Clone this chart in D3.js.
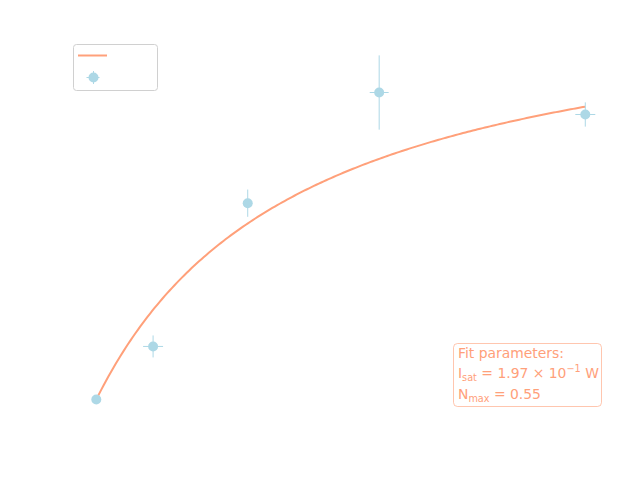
<!DOCTYPE html>
<html><head><meta charset="utf-8">
<script src="https://cdn.jsdelivr.net/npm/d3@7"></script>
<style>body{margin:0;background:#fff}svg{display:block}</style>
</head><body>
<svg id="c" width="640" height="480"></svg>
<script>
// Data (intensity in W, normalized count)
const intensity = [0.0, 0.054, 0.144, 0.269, 0.465];
const counts    = [0.0, 0.070, 0.259, 0.405, 0.376];
const xErr      = [0.0, 0.0095, 0.003, 0.009, 0.0095];
const yErr      = [0.0, 0.0145, 0.018, 0.049, 0.016];
const Isat = 0.197, Nmax = 0.55;
const fitLabels = ["Fit parameters:"];

const svg = d3.select("#c");
const x = d3.scaleLinear().domain([0, 0.5]).range([96.3, 96.3 + 0.5 * 1051.6]);
const y = d3.scaleLinear().domain([0, 0.5]).range([399.5, 399.5 - 0.5 * 758]);
const salmon = "#ffa07a", blue = "#add8e6";

// fit curve
const model = I => Nmax * I / (I + Isat);
const xs = d3.range(0, 201).map(i => intensity[0] + (d3.max(intensity) - intensity[0]) * i / 200);
svg.append("path")
  .datum(xs)
  .attr("fill", "none").attr("stroke", salmon).attr("stroke-width", 2)
  .attr("d", d3.line().x(d => x(d)).y(d => y(model(d))));

// error bars
const pts = intensity.map((v, i) => ({I: v, N: counts[i], ex: xErr[i], ey: yErr[i]}));
const g = svg.append("g");
g.selectAll(".ey").data(pts).join("line")
  .attr("x1", d => x(d.I)).attr("x2", d => x(d.I))
  .attr("y1", d => y(d.N - d.ey)).attr("y2", d => y(d.N + d.ey))
  .attr("stroke", blue).attr("stroke-width", 1);
g.selectAll(".ex").data(pts).join("line")
  .attr("x1", d => x(d.I - d.ex)).attr("x2", d => x(d.I + d.ex))
  .attr("y1", d => y(d.N)).attr("y2", d => y(d.N))
  .attr("stroke", blue).attr("stroke-width", 1);
g.selectAll("circle").data(pts).join("circle")
  .attr("cx", d => x(d.I)).attr("cy", d => y(d.N)).attr("r", 5)
  .attr("fill", blue);

// legend
const lg = svg.append("g");
lg.append("rect").attr("x", 73.5).attr("y", 44.5).attr("width", 84).attr("height", 46)
  .attr("rx", 3).attr("fill", "#fff").attr("stroke", "#d0d0d0").attr("stroke-width", 1);
lg.append("line").attr("x1", 78).attr("x2", 107).attr("y1", 55.5).attr("y2", 55.5)
  .attr("stroke", salmon).attr("stroke-width", 2);
lg.append("line").attr("x1", 86.5).attr("x2", 99.5).attr("y1", 77.5).attr("y2", 77.5).attr("stroke", blue);
lg.append("line").attr("x1", 93.5).attr("x2", 93.5).attr("y1", 71).attr("y2", 84).attr("stroke", blue);
lg.append("circle").attr("cx", 93.5).attr("cy", 77.5).attr("r", 5).attr("fill", blue);

// annotation box
const ab = svg.append("g");
ab.append("rect").attr("x", 453.5).attr("y", 343.5).attr("width", 148).attr("height", 63)
  .attr("rx", 4).attr("fill", "#fff").attr("stroke", salmon).attr("stroke-opacity", 0.6).attr("stroke-width", 1);
const tf = "DejaVu Sans, sans-serif";
const t = ab.append("g").attr("fill", salmon).attr("font-family", tf).attr("font-size", 13.9);
t.append("text").attr("x", 458).attr("y", 357.5).text(fitLabels[0]);
const t2 = t.append("text").attr("x", 458).attr("y", 378);
t2.append("tspan").text("I");
t2.append("tspan").attr("font-size", 9.7).attr("dy", 3).text("sat");
t2.append("tspan").attr("dy", -3).text(" = 1.97 \u00d7 10");
t2.append("tspan").attr("font-size", 9.7).attr("dy", -6).text("\u22121");
t2.append("tspan").attr("dy", 6).text(" W");
const t3 = t.append("text").attr("x", 458).attr("y", 398.5);
t3.append("tspan").text("N");
t3.append("tspan").attr("font-size", 9.7).attr("dy", 3).text("max");
t3.append("tspan").attr("dy", -3).text(" = " + Nmax.toFixed(2));
</script>
</body></html>
